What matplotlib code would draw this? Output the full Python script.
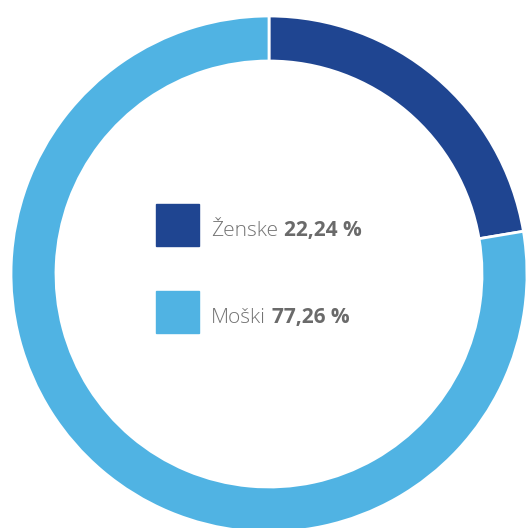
import matplotlib
matplotlib.use("Agg")
import matplotlib.pyplot as plt

labels = ["Ženske", "Moški"]
values = [22.24, 77.26]
value_labels = ["22,24 %", "77,26 %"]
colors = ["#1f4591", "#50b3e3"]

H = 528
fig = plt.figure(figsize=(5.27, 5.28), dpi=100)
ax = fig.add_axes([0, 0, 1, 1])

# donut (pixel coordinates, y measured from the bottom)
ax.pie(values, colors=colors, startangle=90, counterclock=False,
       center=(269, H - 274), radius=258, frame=True,
       wedgeprops=dict(width=45, edgecolor="white", linewidth=2))
ax.set_xlim(0, 527)
ax.set_ylim(0, H)
ax.set_aspect("equal")
ax.axis("off")

# legend in the middle
for i, (lab, num, c) in enumerate(zip(labels, value_labels, colors)):
    top = 204 + i * 87
    ax.add_patch(plt.Rectangle((156, H - top - 42), 43, 42, color=c))
    t = ax.text(211, H - (top + 32), lab, fontsize=15, color="#737373",
                family="Open Sans", weight="light", va="baseline", ha="left")
    ax.annotate(num, xy=(1, 0), xycoords=t, xytext=(4, 0),
                textcoords="offset points", fontsize=15, color="#6a6a6a",
                family="Open Sans", weight="bold", va="bottom", ha="left")

fig.savefig("out.png", dpi=100)
